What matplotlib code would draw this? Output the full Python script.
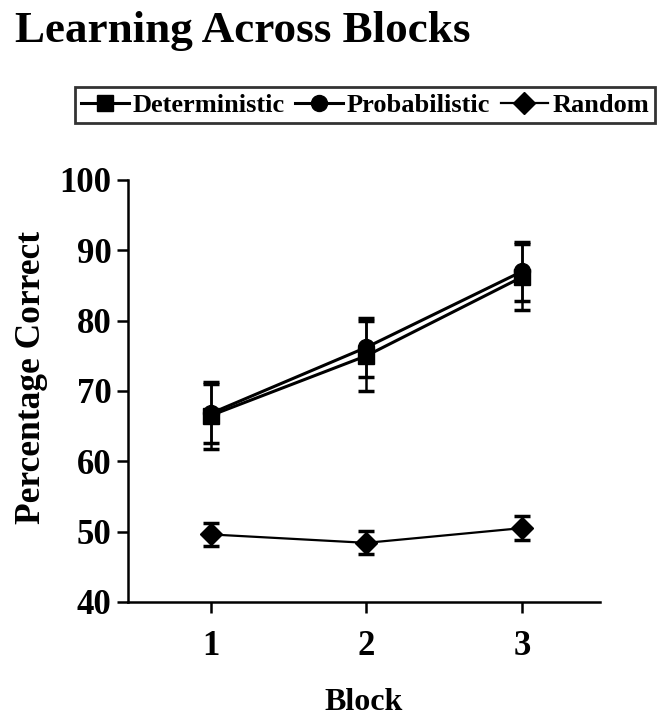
import matplotlib
matplotlib.use("Agg")
import matplotlib.pyplot as plt

blocks = [1, 2, 3]
det_mean = [66.5, 75.0, 86.2]
det_err = [4.8, 5.0, 4.7]
prob_mean = [66.8, 76.2, 87.0]
prob_err = [4.2, 4.2, 4.2]
rand_mean = [49.6, 48.4, 50.5]
rand_err = [1.6, 1.65, 1.65]

plt.rcParams['font.family'] = ['Liberation Serif', 'DejaVu Serif']
plt.rcParams['font.weight'] = 'bold'

fig = plt.figure(figsize=(6.6, 7.2), dpi=100)
ax = fig.add_axes([0.194, 0.164, 0.715, 0.586])

common = dict(color='black', ecolor='black', elinewidth=1.8, capsize=6, capthick=2.5)
h1 = ax.errorbar(blocks, det_mean, yerr=det_err, marker='s', markersize=11.5, lw=2.2,
                 label='Deterministic', **common)
h2 = ax.errorbar(blocks, prob_mean, yerr=prob_err, marker='o', markersize=11.5, lw=2.2,
                 label='Probabilistic', **common)
h3 = ax.errorbar(blocks, rand_mean, yerr=rand_err, marker='D', markersize=11, lw=1.6,
                 label='Random', **common)

ax.set_xlim(0.47, 3.5)
ax.set_ylim(40, 100)
ax.set_yticks([40, 50, 60, 70, 80, 90, 100])
ax.set_xticks(blocks)
for s in ['top', 'right']:
    ax.spines[s].set_visible(False)
for s in ['left', 'bottom']:
    ax.spines[s].set_linewidth(1.8)
ax.tick_params(axis='both', direction='out', length=8, width=1.8, labelsize=25)
ax.tick_params(axis='y', pad=4)
ax.tick_params(axis='x', pad=12)
for lbl in ax.get_xticklabels() + ax.get_yticklabels():
    lbl.set_fontweight('bold')

ax.set_ylabel('Percentage Correct', fontsize=25.5, fontweight='bold')
ax.yaxis.set_label_coords(-0.17, 0.531)
ax.set_xlabel('Block', fontsize=23, fontweight='bold')
ax.xaxis.set_label_coords(0.5, -0.205)

fig.text(0.023, 1 - 42 / 720, 'Learning Across Blocks', fontsize=32.5, fontweight='bold',
         ha='left', va='baseline')

handles = [h1[0], h2[0], h3[0]]
leg = fig.legend(handles=handles, labels=['Deterministic', 'Probabilistic', 'Random'],
                 loc='center', bbox_to_anchor=(0.553, 1 - 105 / 720),
                 ncol=3, frameon=True, fancybox=False, edgecolor='black',
                 handlelength=1.8, handletextpad=0.15, columnspacing=0.4,
                 borderpad=0.25, borderaxespad=0, prop={'weight': 'bold', 'size': 19})
leg.get_frame().set_linewidth(2)

fig.savefig('out.png', dpi=100)
